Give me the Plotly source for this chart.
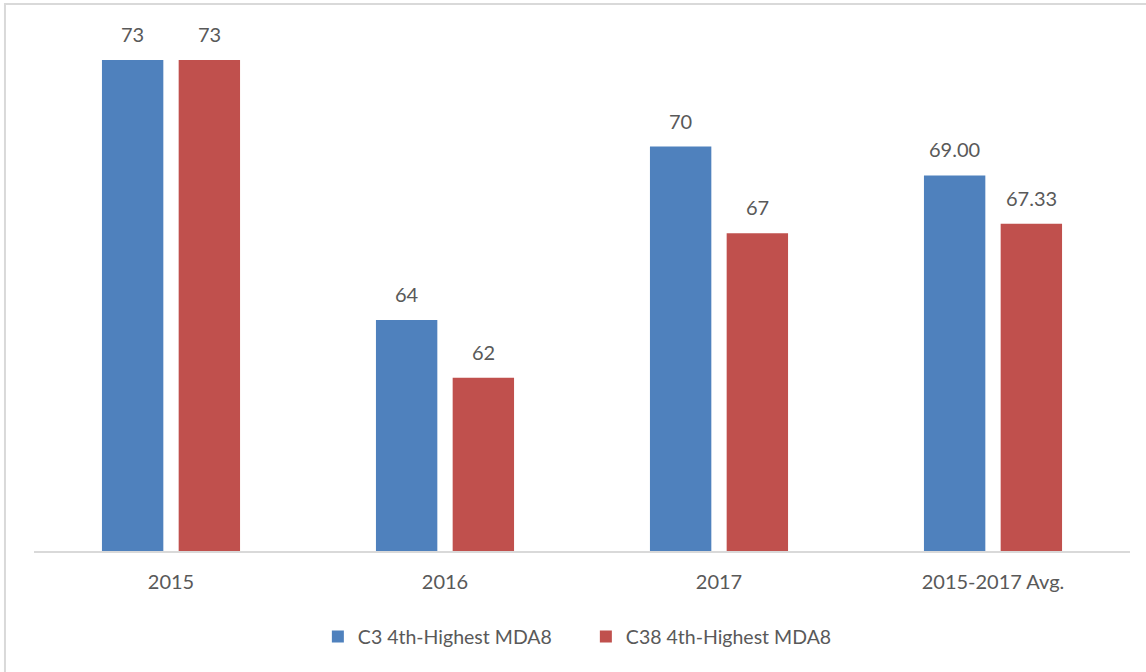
import plotly.graph_objects as go

categories = ["2015", "2016", "2017", "2015-2017 Avg."]
c3_values = [73, 64, 70, 69.00]
c38_values = [73, 62, 67, 67.33]
c3_labels = ["73", "64", "70", "69.00"]
c38_labels = ["73", "62", "67", "67.33"]

BLUE = "#4f81bd"
RED = "#c0504d"
TEXT = "#595959"
FONT = "Lato"
BARGAP = 0.44

fig = go.Figure()
fig.add_trace(go.Bar(name="C3 4th-Highest MDA8", x=categories, y=c3_values,
                     marker=dict(color=BLUE, line=dict(width=0))))
fig.add_trace(go.Bar(name="C38 4th-Highest MDA8", x=categories, y=c38_values,
                     marker=dict(color=RED, line=dict(width=0))))

# value labels centred above each bar of a group
slot = (1 - BARGAP) / 2
annotations = []
for i, cat in enumerate(categories):
    for off, vals, labs in ((-slot / 2, c3_values, c3_labels), (slot / 2, c38_values, c38_labels)):
        annotations.append(dict(x=i + off, y=vals[i], xref="x", yref="y",
                                text=labs[i], showarrow=False, yshift=26,
                                font=dict(family=FONT, size=20, color=TEXT)))

fig.update_layout(
    width=1146, height=672,
    margin=dict(l=34, r=16, t=31, b=121),
    paper_bgcolor="white", plot_bgcolor="white",
    barmode="group", bargap=BARGAP, bargroupgap=0.2,
    font=dict(family=FONT, size=20, color=TEXT),
    showlegend=True,
    legend=dict(orientation="h", x=0.259, xanchor="left", y=-0.165, yanchor="middle",
                font=dict(family=FONT, size=19.5, color=TEXT), itemwidth=30,
                entrywidth=223, entrywidthmode="pixels",
                traceorder="normal"),
    annotations=annotations,
    shapes=[dict(type="rect", xref="paper", yref="paper",
                 x0=-0.0265, x1=1.1, y0=-0.3, y1=1.052,
                 line=dict(color="#d9d9d9", width=2), fillcolor="rgba(0,0,0,0)",
                 layer="below")],
)
fig.update_xaxes(showline=True, linecolor="#d9d9d9", linewidth=2, ticks="",
                 ticklabelstandoff=12,
                 tickfont=dict(family=FONT, size=20, color=TEXT), showgrid=False)
fig.update_yaxes(range=[56, 74], visible=False, showgrid=False, zeroline=False)

fig.write_html("out.html")
